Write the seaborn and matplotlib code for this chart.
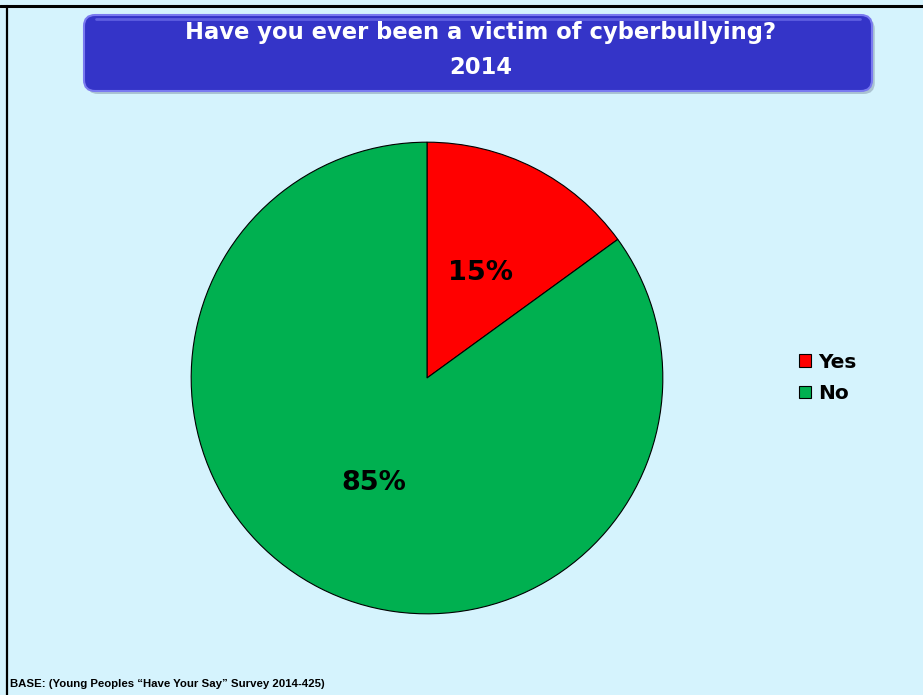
import matplotlib
matplotlib.use("Agg")
import matplotlib.pyplot as plt
from matplotlib.patches import FancyBboxPatch
from matplotlib.lines import Line2D
import seaborn as sns

# Data
categories = ["Yes", "No"]
shares = [15, 85]
colors = ["#FF0000", "#00B050"]

title_lines = ["Have you ever been a victim of cyberbullying?", "2014"]
footnote = "BASE: (Young Peoples \u201cHave Your Say\u201d Survey 2014-425)"

sns.set_theme(style="white")
plt.rcParams["font.family"] = ["DejaVu Sans"]
plt.rcParams["text.color"] = "black"

bg = "#D5F3FD"
W, H = 923, 695
fig = plt.figure(figsize=(W / 100, H / 100), dpi=100, facecolor=bg)

# frame lines (top and left)
fig.add_artist(Line2D([0, 1], [1 - 5.5 / H, 1 - 5.5 / H], color="black", lw=2.2,
                      transform=fig.transFigure))
fig.add_artist(Line2D([6.5 / W, 6.5 / W], [0, 1 - 5.5 / H], color="black", lw=1.6,
                      transform=fig.transFigure))

# title box
bx0, bx1, by0, by1 = 84, 872, 15, 91
shadow = FancyBboxPatch((bx0 / W + 0.003, 1 - (by1 + 3) / H), (bx1 - bx0) / W, (by1 - by0) / H,
                        boxstyle="round,pad=0,rounding_size=0.012", transform=fig.transFigure,
                        facecolor="#9AAFC0", edgecolor="none", alpha=0.7, mutation_aspect=W / H)
fig.add_artist(shadow)
box = FancyBboxPatch((bx0 / W, 1 - by1 / H), (bx1 - bx0) / W, (by1 - by0) / H,
                     boxstyle="round,pad=0,rounding_size=0.012", transform=fig.transFigure,
                     facecolor="#3434C8", edgecolor="#7A7AF0", lw=1.5, mutation_aspect=W / H)
fig.add_artist(box)
# thin gloss near top of the box
fig.add_artist(Line2D([(bx0 + 12) / W, (bx1 - 12) / W], [1 - 19 / H, 1 - 19 / H],
                      color="#5E5EE0", lw=2, transform=fig.transFigure))
tx = 481 / W
fig.text(tx, 1 - 33 / H, title_lines[0], ha="center", va="center", color="white",
         fontsize=16.3, fontweight="bold")
fig.text(tx, 1 - 68 / H, title_lines[1], ha="center", va="center", color="white",
         fontsize=16.3, fontweight="bold")

# pie
cx, cy, r = 427, 378, 237
ax = fig.add_axes([(cx - r) / W, 1 - (cy + r) / H, 2 * r / W, 2 * r / H])
ax.set_facecolor("none")
wedges, _, autotexts = ax.pie(
    shares, colors=colors, startangle=90, counterclock=False, radius=1,
    autopct="%1.0f%%", pctdistance=0.5,
    wedgeprops={"edgecolor": "black", "linewidth": 0.8},
    textprops={"fontsize": 19.5, "fontweight": "bold", "color": "black"},
)
ax.set_xlim(-1.005, 1.005)
ax.set_ylim(-1.005, 1.005)
ax.set_aspect("equal")
ax.axis("off")

# legend
leg = fig.legend(wedges, categories, loc="center left", bbox_to_anchor=(781 / W, 1 - 378 / H),
                 frameon=False, handlelength=0.6, handleheight=0.6, handletextpad=0.35,
                 labelspacing=0.6, prop={"size": 14.5, "weight": "bold"})
for t in leg.get_texts():
    t.set_color("black")

# footnote
fig.text(10 / W, 1 - 684 / H, footnote, ha="left", va="center", fontsize=8.2,
         fontweight="bold", color="black", family=["Liberation Sans", "DejaVu Sans"])

fig.savefig("out.png", dpi=100, facecolor=bg)
